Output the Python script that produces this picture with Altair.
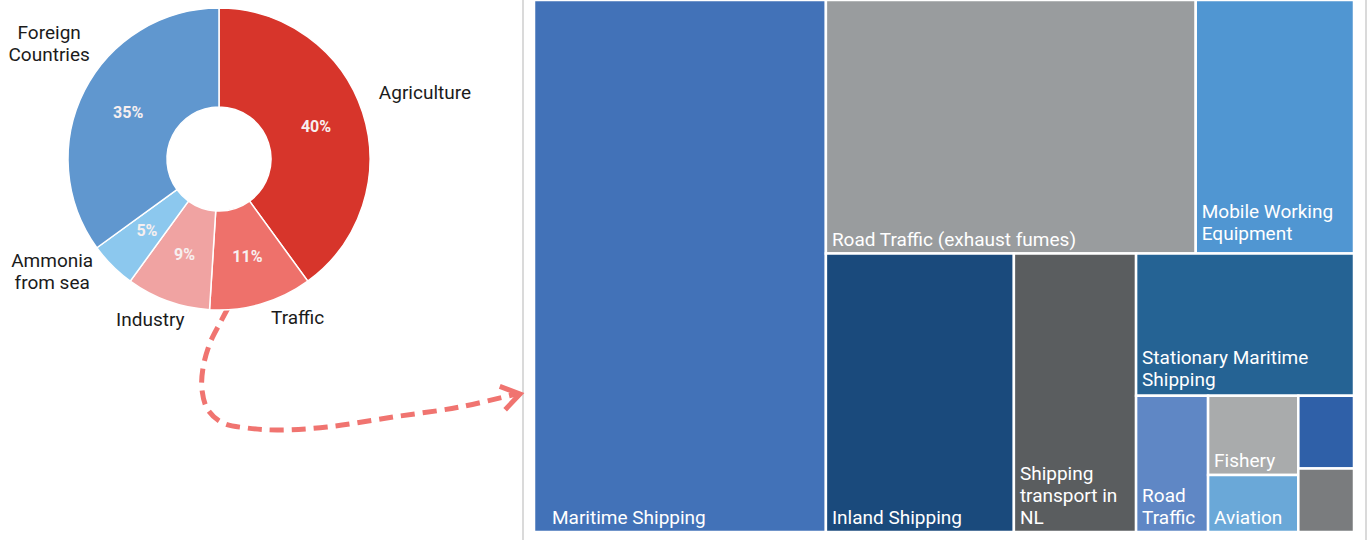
import math
import altair as alt
import pandas as pd

W, H = 1369, 540

# ---------------- data ----------------
donut_cats = ["Agriculture", "Traffic", "Industry", "Ammonia from sea", "Foreign Countries"]
donut_vals = [40, 11, 9, 5, 35]
donut_texts = ["Agriculture", "Traffic", "Industry", "Ammonia\nfrom sea", "Foreign\nCountries"]
donut_colors = ["#D7352B", "#EE716B", "#F0A3A2", "#8CC8EE", "#6097CF"]

tm_cats = ["Maritime Shipping", "Road Traffic (exhaust fumes)", "Mobile Working Equipment",
           "Inland Shipping", "Shipping transport in NL", "Stationary Maritime Shipping",
           "Road Traffic", "Fishery", "Aviation", "Other A", "Other B"]
tm_vals = [35.6, 21.5, 9.2, 12.0, 7.8, 7.1, 2.25, 1.64, 1.18, 0.93, 0.81]
tm_texts = ["Maritime Shipping", "Road Traffic (exhaust fumes)", "Mobile Working\nEquipment",
            "Inland Shipping", "Shipping\ntransport in\nNL", "Stationary Maritime\nShipping",
            "Road\nTraffic", "Fishery", "Aviation", "", ""]
tm_colors = ["#4272B8", "#999C9E", "#5096D2", "#1A4A7C", "#5A5D5F", "#256394",
             "#5F87C5", "#A9ABAC", "#6AA8D8", "#2F60A8", "#7A7C7E"]

# arrow path (decoration)
arrow_x = [228, 220, 210, 203, 202, 208, 223, 247, 277, 327, 393, 460, 516]
arrow_y = [308, 323, 343, 368, 390, 410, 423, 428, 430, 427, 417, 407, 394]

# ---------------- layout helpers ----------------
CX, CY, R_OUT, R_IN = 219, 159, 151, 52
FONT = "Roboto"
LINE_H = 22

# nested slice structure of the treemap ("h" = split horizontally, "v" = vertically)
tree = ("h", [0, ("v", [("h", [1, 2]),
                        ("h", [3, 4, ("v", [5, ("h", [6, ("v", [7, 8]), ("v", [9, 10])])])])])])


def total(node):
    if isinstance(node, int):
        return tm_vals[node]
    return sum(total(k) for k in node[1])


rects = {}


def layout(node, x0, x1, y0, y1):
    if isinstance(node, int):
        rects[node] = (x0, x1, y0, y1)
        return
    d, kids = node
    t = total(node)
    pos = x0 if d == "h" else y0
    for k in kids:
        f = total(k) / t
        if d == "h":
            step = (x1 - x0) * f
            layout(k, pos, pos + step, y0, y1)
        else:
            step = (y1 - y0) * f
            layout(k, x0, x1, pos, pos + step)
        pos += step


layout(tree, 0.0, 1.0, 0.0, 1.0)

TM_X0, TM_X1, TM_Y0, TM_Y1 = 534, 1354, 0, 532
TW, TH = TM_X1 - TM_X0, TM_Y1 - TM_Y0
tm_pad = {"Maritime Shipping": 18}
tm_bottom = {"Mobile Working Equipment": 14, "Stationary Maritime Shipping": 10}
tm_rows, tm_lines = [], []
for i, c in enumerate(tm_cats):
    x0, x1, y0, y1 = rects[i]
    tm_rows.append(dict(cat=c, value=tm_vals[i], x0=x0, x1=x1, y0=y0, y1=y1))
    lines = tm_texts[i].split("\n") if tm_texts[i] else []
    n = len(lines)
    for j, line in enumerate(lines):
        k = n - 1 - j
        tm_lines.append(dict(line=line,
                             tx=x0 + tm_pad.get(c, 6) / TW,
                             ty=y1 - (tm_bottom.get(c, 8) + k * LINE_H) / TH))
tm_df = pd.DataFrame(tm_rows)
tm_line_df = pd.DataFrame(tm_lines)

xs = alt.Scale(domain=[0, 1], range=[TM_X0, TM_X1])
ys = alt.Scale(domain=[0, 1], range=[TM_Y0, TM_Y1])

tm_rect = alt.Chart(tm_df).mark_rect(stroke="white", strokeWidth=2.5).encode(
    x=alt.X("x0:Q", scale=xs, axis=None), x2="x1:Q",
    y=alt.Y("y0:Q", scale=ys, axis=None), y2="y1:Q",
    color=alt.Color("cat:N", scale=alt.Scale(domain=tm_cats, range=tm_colors), legend=None),
)
tm_text = alt.Chart(tm_line_df).mark_text(
    align="left", baseline="alphabetic", font=FONT, fontSize=19, color="white",
).encode(
    x=alt.X("tx:Q", scale=xs, axis=None),
    y=alt.Y("ty:Q", scale=ys, axis=None),
    text="line:N",
)

# donut
donut_df = pd.DataFrame(dict(cat=donut_cats, value=donut_vals, order=list(range(len(donut_cats))),
                             pct=[f"{v}%" for v in donut_vals]))
base = alt.Chart(donut_df).encode(
    theta=alt.Theta("value:Q", stack=True),
    order=alt.Order("order:Q"),
    x=alt.value(CX), y=alt.value(CY),
)
arcs = base.mark_arc(innerRadius=R_IN, outerRadius=R_OUT, stroke="white", strokeWidth=1.5).encode(
    color=alt.Color("cat:N", scale=alt.Scale(domain=donut_cats, range=donut_colors), legend=None)
)
pct = base.mark_text(radius=102, font=FONT, fontSize=16, fontWeight="bold", color="#F7EFEF").encode(
    text="pct:N"
)

# outside labels: placed along each slice's mid angle, nudged
label_r = 185
nudge = {"Agriculture": (30, -9), "Traffic": (27, -19), "Industry": (-6, -13),
         "Ammonia from sea": (-36, -18), "Foreign Countries": (-5, -31)}
tot = sum(donut_vals)
cum = 0
lab_rows = []
for c, v, t in zip(donut_cats, donut_vals, donut_texts):
    mid = (cum + v / 2) / tot * 2 * math.pi
    cum += v
    nx, ny = nudge[c]
    bx = CX + label_r * math.sin(mid) + nx
    by = CY - label_r * math.cos(mid) + ny
    lines = t.split("\n")
    n = len(lines)
    for j, line in enumerate(lines):
        lab_rows.append(dict(line=line, lx=bx, ly=by + (j - (n - 1) / 2) * LINE_H))
lab_df = pd.DataFrame(lab_rows)

px = alt.Scale(domain=[0, W], range=[0, W])
py = alt.Scale(domain=[0, H], range=[0, H])

out_labels = alt.Chart(lab_df).mark_text(
    font=FONT, fontSize=19, color="#1B1B1B", align="center", baseline="middle",
).encode(
    x=alt.X("lx:Q", scale=px, axis=None),
    y=alt.Y("ly:Q", scale=py, axis=None),
    text="line:N",
)

arrow_df = pd.DataFrame(dict(ax=arrow_x, ay=arrow_y, i=list(range(len(arrow_x)))))
arrow_line = alt.Chart(arrow_df).mark_line(
    color="#F07470", strokeWidth=5, strokeDash=[14, 8], interpolate="catmull-rom"
).encode(
    x=alt.X("ax:Q", scale=px, axis=None),
    y=alt.Y("ay:Q", scale=py, axis=None),
    order="i:Q",
)
head_df = arrow_df.tail(1).copy()
head_df["ax"] = [520]
arrow_head = alt.Chart(head_df).mark_point(
    shape="M -1.5 -1 L 0 0 L -1.5 1", filled=False, stroke="#F07470", strokeWidth=5,
    size=576, angle=347, opacity=1, strokeJoin="miter",
).encode(
    x=alt.X("ax:Q", scale=px, axis=None),
    y=alt.Y("ay:Q", scale=py, axis=None),
)

border_l = alt.Chart(donut_df).mark_rule(color="#DADADA", strokeWidth=1.5).encode(
    x=alt.value(523), y=alt.value(0), y2=alt.value(H))
border_r = alt.Chart(donut_df).mark_rule(color="#DADADA", strokeWidth=1.5).encode(
    x=alt.value(1366), y=alt.value(0), y2=alt.value(H))

chart = alt.layer(
    border_l, border_r, arrow_line, arrow_head, out_labels, arcs, pct, tm_rect, tm_text
).resolve_scale(x="independent", y="independent", color="independent").properties(
    width=W, height=H, padding=0, autosize=alt.AutoSizeParams(type="none")
).configure_view(stroke=None)

chart.save("out.html", embed_options={"renderer": "svg", "actions": False})
